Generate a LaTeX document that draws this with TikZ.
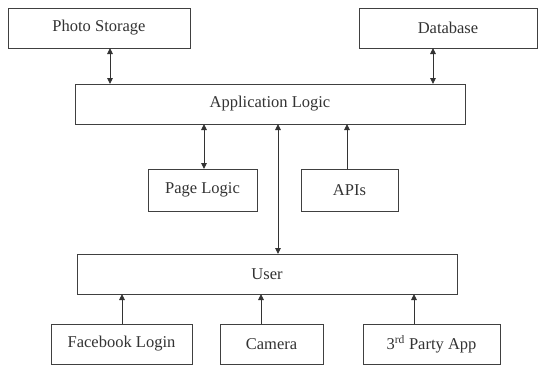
\documentclass[tikz,border=0pt]{standalone}
\usepackage{fontspec}
\setmainfont{Liberation Serif}
\usetikzlibrary{arrows.meta}
\begin{document}
\begin{tikzpicture}[x=1pt,y=-1pt,
  box/.style={draw=black!75, line width=0.9pt, fill=white, inner sep=0pt, outer sep=0pt,
    minimum height=40pt, font=\fontsize{16.5}{19}\selectfont, text=black!80},
  conn/.style={draw=black!80, line width=0.9pt},
  tip/.tip={Triangle[width=5.5pt,length=6pt]}]
\useasboundingbox (0,0) rectangle (539,367);
\node[box, minimum width=182pt] (photo) at (99,28) {Photo Storage};
\node[box, minimum width=178pt] (db) at (448,28) {Database};
\node[box, minimum width=390pt] (app) at (270,104) {Application Logic};
\node[box, minimum width=109pt, minimum height=42pt] (page) at (202.5,190) {Page Logic};
\node[box, minimum width=97pt, minimum height=42pt] (apis) at (349.5,190) {APIs};
\node[box, minimum width=380pt] (user) at (267,274) {User};
\node[box, minimum width=141pt] (fb) at (121.5,344) {Facebook Login};
\node[box, minimum width=103pt] (cam) at (271.5,344) {Camera};
\node[box, minimum width=137pt] (third) at (431.5,344) {3\textsuperscript{rd} Party App};
\coordinate (xp) at (110,0);
\coordinate (xd) at (433,0);
\coordinate (xpl) at (204,0);
\coordinate (xc) at (278,0);
\coordinate (xa) at (347,0);
\coordinate (xf) at (122,0);
\coordinate (xcam) at (261,0);
\coordinate (xt) at (414,0);
\draw[conn, tip-tip] (photo.south -| xp) -- (app.north -| xp);
\draw[conn, tip-tip] (db.south -| xd) -- (app.north -| xd);
\draw[conn, tip-tip] (app.south -| xpl) -- (page.north -| xpl);
\draw[conn, tip-tip] (app.south -| xc) -- (user.north -| xc);
\draw[conn, -tip] (apis.north -| xa) -- (app.south -| xa);
\draw[conn, -tip] (fb.north -| xf) -- (user.south -| xf);
\draw[conn, -tip] (cam.north -| xcam) -- (user.south -| xcam);
\draw[conn, -tip] (third.north -| xt) -- (user.south -| xt);
\end{tikzpicture}
\end{document}
